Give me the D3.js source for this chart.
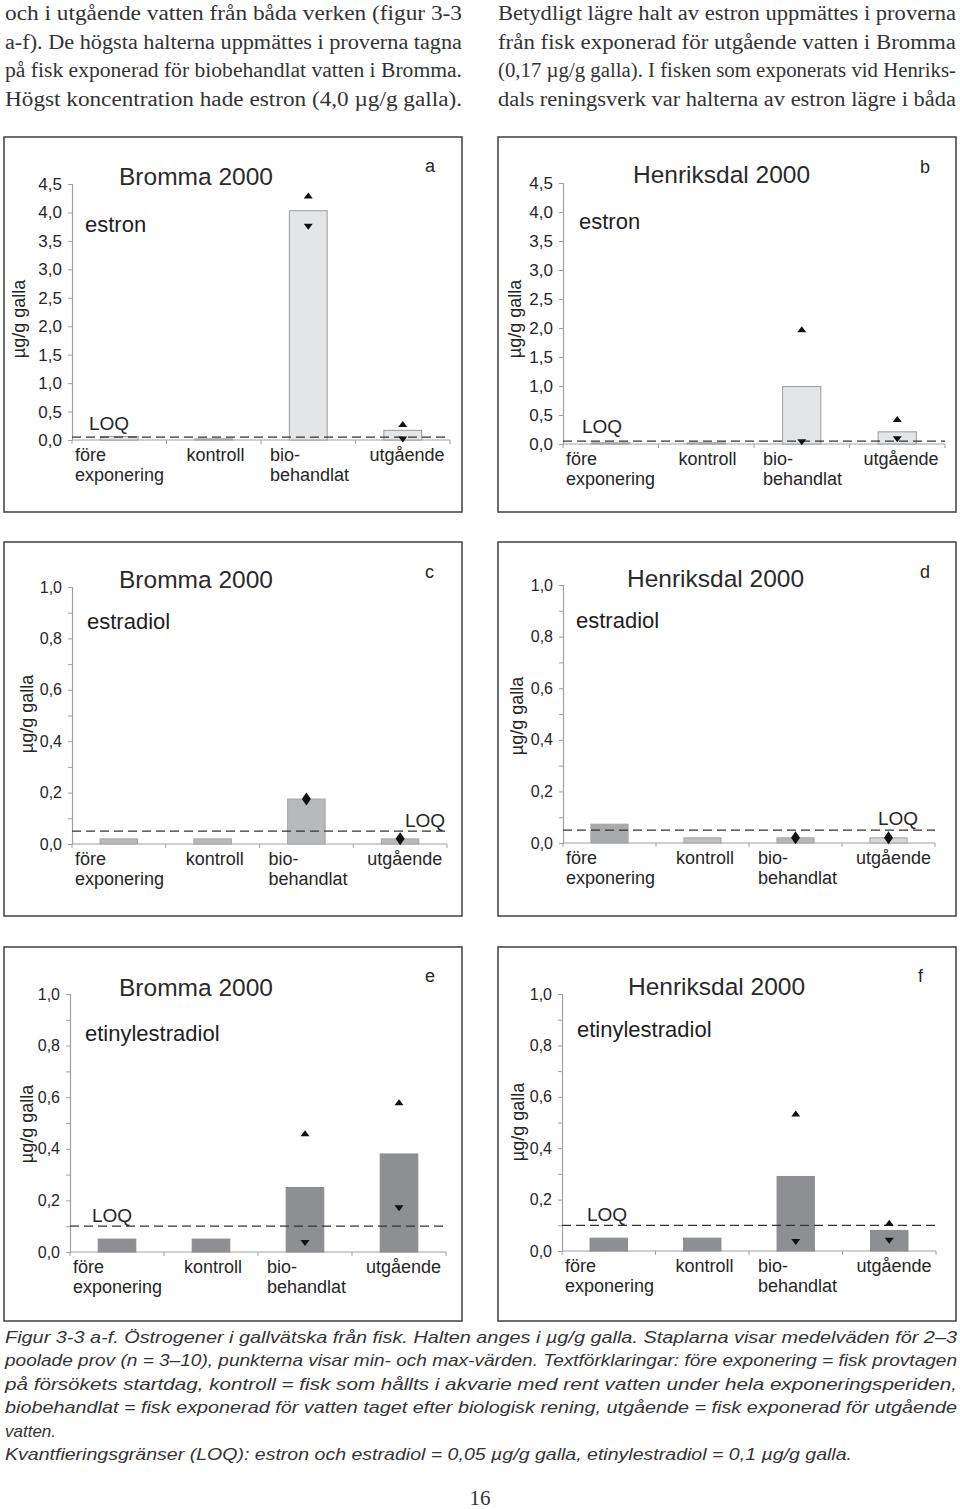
<!DOCTYPE html>
<html><head><meta charset="utf-8">
<script src="https://cdn.jsdelivr.net/npm/d3@7"></script>
<style>body{margin:0;background:#fff;} svg{display:block;}</style>
</head><body>
<script>
// ---------------- DATA ----------------
const categories = ["före exponering", "kontroll", "biobehandlat", "utgående"];
const categoryLines = [["före", "exponering"], ["kontroll"], ["bio-", "behandlat"], ["utgående"]];
const panelLetters = ["a", "b", "c", "d", "e", "f"];
const panelSites = ["Bromma 2000", "Henriksdal 2000", "Bromma 2000", "Henriksdal 2000", "Bromma 2000", "Henriksdal 2000"];
const panelCompounds = ["estron", "estron", "estradiol", "estradiol", "etinylestradiol", "etinylestradiol"];
const yMaxima = [4.5, 4.5, 1.0, 1.0, 1.0, 1.0];
const yTickSteps = [0.5, 0.5, 0.1, 0.1, 0.1, 0.1];
const yLabelSteps = [0.5, 0.5, 0.2, 0.2, 0.2, 0.2];
const loqValues = [0.05, 0.05, 0.05, 0.05, 0.1, 0.1];
const yAxisTitle = "µg/g galla";
const loqText = "LOQ";

// mean values per panel (order of categories)
const meansA = [0.06, 0.02, 4.03, 0.17];
const meansB = [0.02, 0.02, 0.99, 0.21];
const meansC = [0.02, 0.02, 0.175, 0.02];
const meansD = [0.073, 0.02, 0.02, 0.02];
const meansE = [0.05, 0.05, 0.25, 0.38];
const meansF = [0.05, 0.05, 0.29, 0.08];
// max / min values (null = not shown)
const maxA = [null, null, 4.30, 0.28];
const minA = [null, null, 3.75, 0.01];
const maxB = [null, null, 1.98, 0.43];
const minB = [null, null, 0.03, 0.08];
const maxC = [null, null, 0.175, 0.02];
const minC = [null, null, 0.175, 0.02];
const maxD = [null, null, 0.02, 0.02];
const minD = [null, null, 0.02, 0.02];
const maxE = [null, null, 0.46, 0.58];
const minE = [null, null, 0.035, 0.17];
const maxF = [null, null, 0.535, 0.11];
const minF = [null, null, 0.035, 0.04];

const panelMeans = [meansA, meansB, meansC, meansD, meansE, meansF];
const panelMax = [maxA, maxB, maxC, maxD, maxE, maxF];
const panelMin = [minA, minB, minC, minD, minE, minF];

// text around the chart
const paraLeft = [
  "och i utgående vatten från båda verken (figur 3-3",
  "a-f). De högsta halterna uppmättes i proverna tagna",
  "på fisk exponerad för biobehandlat vatten i Bromma.",
  "Högst koncentration hade estron (4,0 µg/g galla)."
];
const paraRight = [
  "Betydligt lägre halt av estron uppmättes i proverna",
  "från fisk exponerad för utgående vatten i Bromma",
  "(0,17 µg/g galla). I fisken som exponerats vid Henriks-",
  "dals reningsverk var halterna av estron lägre i båda"
];
const captionLines = [
  "Figur 3-3 a-f. Östrogener i gallvätska från fisk. Halten anges i µg/g galla. Staplarna visar medelväden för 2–3",
  "poolade prov (n = 3–10), punkterna visar min- och max-värden. Textförklaringar: före exponering = fisk provtagen",
  "på försökets startdag, kontroll = fisk som hållts i akvarie med rent vatten under hela exponeringsperiden,",
  "biobehandlat = fisk exponerad för vatten taget efter biologisk rening, utgående = fisk exponerad för utgående",
  "vatten.",
  "Kvantfieringsgränser (LOQ): estron och estradiol = 0,05 µg/g galla, etinylestradiol = 0,1 µg/g galla."
];
const pageNumber = "16";

// ---------------- LAYOUT / STYLE ----------------
const W = 960, H = 1509;
const layout = [
  {box:[4,137,462,512], ax:72, xEnd:450, zero:440, top:184, title:[119,185], comp:[85,232], letter:[425,172], yt:[19,319], loq:[89,"start",-7], tickFont:17},
  {box:[498,137,956,512], ax:563, xEnd:945, zero:444, top:183, title:[633,183], comp:[579,229], letter:[920,173], yt:[515,319], loq:[582,"start",-8], tickFont:17},
  {box:[4,542,462,916], ax:72, xEnd:447, zero:844, top:587, title:[119,588], comp:[87,629], letter:[425,578], yt:[27,714], loq:[445,"end",-4], tickFont:16},
  {box:[498,542,956,916], ax:563, xEnd:935, zero:843, top:585, title:[627,587], comp:[576,628], letter:[920,578], yt:[517,716], loq:[918,"end",-5], tickFont:16},
  {box:[4,947,462,1321], ax:70, xEnd:446, zero:1252, top:994, title:[119,996], comp:[85,1041], letter:[425,982], yt:[27,1124], loq:[92,"start",-4], tickFont:16},
  {box:[498,947,956,1321], ax:562, xEnd:936, zero:1251, top:994, title:[628,995], comp:[577,1037], letter:[918,982], yt:[518,1122], loq:[587,"start",-4], tickFont:16}
];
const barFills = [
  ["#e4e5e7","#e4e5e7","#e4e5e7","#e4e5e7"],
  ["#e4e5e7","#e4e5e7","#e4e5e7","#e4e5e7"],
  ["#b8b9bb","#b8b9bb","#b8b9bb","#b8b9bb"],
  ["#a9aaac","#bfc0c1","#b5b6b8","#d6d7d8"],
  ["#8e8f92","#8e8f92","#8e8f92","#8e8f92"],
  ["#8e8f92","#8e8f92","#8e8f92","#8e8f92"]
];
const barStrokes = ["#9a9a9a","#9a9a9a","#a5a5a5","#a5a5a5","#8a8b8e","#8a8b8e"];
const catLabelDx = [3, 20, 9, 14];
const SANS = "'Liberation Sans', Arial, Helvetica, sans-serif";
const SERIF = "'Liberation Serif', 'Times New Roman', serif";
const TXT = "#262626";

const svg = d3.select("body").append("svg").attr("width", W).attr("height", H)
  .attr("viewBox", `0 0 ${W} ${H}`);
svg.append("rect").attr("width", W).attr("height", H).attr("fill", "#fff");

// top paragraph
const para = svg.append("g").attr("font-family", SERIF).attr("font-size", 20.5).attr("fill", "#333");
[[paraLeft, 5, 457], [paraRight, 498, 458]].forEach(([lines, x0, len]) => {
  lines.forEach((t, i) => {
    para.append("text").attr("x", x0).attr("y", 20 + i * 28.7)
      .attr("textLength", len).attr("lengthAdjust", "spacingAndGlyphs").text(t);
  });
});

const fmt = v => d3.format(".1f")(v).replace(".", ",");

function drawPanel(i) {
  const L = layout[i];
  const g = svg.append("g");
  const [bx0, by0, bx1, by1] = L.box;
  g.append("rect").attr("x", bx0).attr("y", by0).attr("width", bx1 - bx0).attr("height", by1 - by0)
    .attr("fill", "none").attr("stroke", "#4a4a4a").attr("stroke-width", 1.6);

  const y = d3.scaleLinear().domain([0, yMaxima[i]]).range([L.zero, L.top]);
  const x = d3.scaleBand().domain(categories).range([L.ax, L.xEnd]).paddingInner(0.6).paddingOuter(0.3);
  const step = x.step();

  // y axis
  const ticks = d3.range(0, yMaxima[i] + 1e-9, yTickSteps[i]);
  const yAxis = d3.axisLeft(y).tickValues(ticks).tickSize(4).tickPadding(6)
    .tickFormat(v => {
      const r = v / yLabelSteps[i];
      return Math.abs(r - Math.round(r)) < 1e-6 ? fmt(v) : "";
    });
  const ya = g.append("g").attr("transform", `translate(${L.ax},0)`).call(yAxis);
  ya.select(".domain").attr("stroke", "#a0a0a0").attr("stroke-width", 1.2);
  ya.selectAll(".tick line").attr("stroke", "#a0a0a0");
  ya.selectAll(".tick text").attr("font-family", SANS).attr("font-size", L.tickFont).attr("fill", TXT);

  // x axis
  g.append("line").attr("x1", L.ax).attr("x2", L.xEnd).attr("y1", L.zero).attr("y2", L.zero)
    .attr("stroke", "#a0a0a0").attr("stroke-width", 1.2);
  g.selectAll(".xt").data(d3.range(0, categories.length + 1)).join("line")
    .attr("x1", k => L.ax + k * step).attr("x2", k => L.ax + k * step)
    .attr("y1", L.zero).attr("y2", L.zero + 4).attr("stroke", "#a0a0a0");

  // category labels
  categories.forEach((c, k) => {
    const t = g.append("text").attr("font-family", SANS).attr("font-size", 18).attr("fill", TXT);
    categoryLines[k].forEach((ln, j) => {
      t.append("tspan").attr("x", L.ax + k * step + catLabelDx[k]).attr("y", L.zero + 21 + j * 19.5).text(ln);
    });
  });

  // bars
  const means = panelMeans[i];
  g.selectAll(".bar").data(categories).join("rect")
    .attr("x", c => x(c)).attr("width", x.bandwidth())
    .attr("y", (c, k) => y(means[k])).attr("height", (c, k) => L.zero - y(means[k]))
    .attr("fill", (c, k) => barFills[i][k]).attr("stroke", barStrokes[i]).attr("stroke-width", 1);

  // LOQ line
  g.append("line").attr("x1", L.ax).attr("x2", L.xEnd).attr("y1", y(loqValues[i])).attr("y2", y(loqValues[i]))
    .attr("stroke", "#333").attr("stroke-width", 1.3).attr("stroke-dasharray", "9,5");
  g.append("text").attr("x", L.loq[0]).attr("y", y(loqValues[i]) + L.loq[2]).attr("text-anchor", L.loq[1])
    .attr("font-family", SANS).attr("font-size", 19).attr("fill", TXT).text(loqText);

  // min / max markers
  const mx = panelMax[i], mn = panelMin[i];
  categories.forEach((c, k) => {
    if (mx[k] == null) return;
    const cx = x(c) + x.bandwidth() / 2;
    if (mx[k] === mn[k]) {
      const cy = y(mx[k]);
      g.append("path").attr("d", `M${cx},${cy - 6.5}L${cx + 4.5},${cy}L${cx},${cy + 6.5}L${cx - 4.5},${cy}Z`).attr("fill", "#111");
    } else {
      const ty = y(mx[k]);
      g.append("path").attr("d", `M${cx - 4.5},${ty + 3}L${cx + 4.5},${ty + 3}L${cx},${ty - 3}Z`).attr("fill", "#111");
      const by = y(mn[k]);
      g.append("path").attr("d", `M${cx - 4.5},${by - 3}L${cx + 4.5},${by - 3}L${cx},${by + 3}Z`).attr("fill", "#111");
    }
  });

  // titles
  g.append("text").attr("x", L.title[0]).attr("y", L.title[1]).attr("font-family", SANS).attr("font-size", 24.5)
    .attr("fill", "#2a2a2a").text(panelSites[i]);
  g.append("text").attr("x", L.comp[0]).attr("y", L.comp[1]).attr("font-family", SANS).attr("font-size", 22)
    .attr("fill", "#1e1e1e").text(panelCompounds[i]);
  g.append("text").attr("x", L.letter[0]).attr("y", L.letter[1]).attr("font-family", SANS).attr("font-size", 18)
    .attr("fill", TXT).text(panelLetters[i]);
  g.append("text").attr("transform", `translate(${L.yt[0] + 6},${L.yt[1]}) rotate(-90)`).attr("text-anchor", "middle")
    .attr("font-family", SANS).attr("font-size", 18).attr("fill", TXT).text(yAxisTitle);
}
for (let i = 0; i < 6; i++) drawPanel(i);

// caption
const cap = svg.append("g").attr("font-family", SANS).attr("font-style", "italic").attr("font-size", 17).attr("fill", "#333");
captionLines.forEach((t, i) => {
  const el = cap.append("text").attr("x", 5).attr("y", 1343 + i * 23.4).text(t);
  if (i < 4) el.attr("textLength", 952).attr("lengthAdjust", "spacingAndGlyphs");
  if (i === 5) el.attr("textLength", 847).attr("lengthAdjust", "spacingAndGlyphs");
});
svg.append("text").attr("x", 480).attr("y", 1505).attr("text-anchor", "middle").attr("font-family", SERIF)
  .attr("font-size", 21).attr("fill", "#333").text(pageNumber);
</script>
</body></html>
